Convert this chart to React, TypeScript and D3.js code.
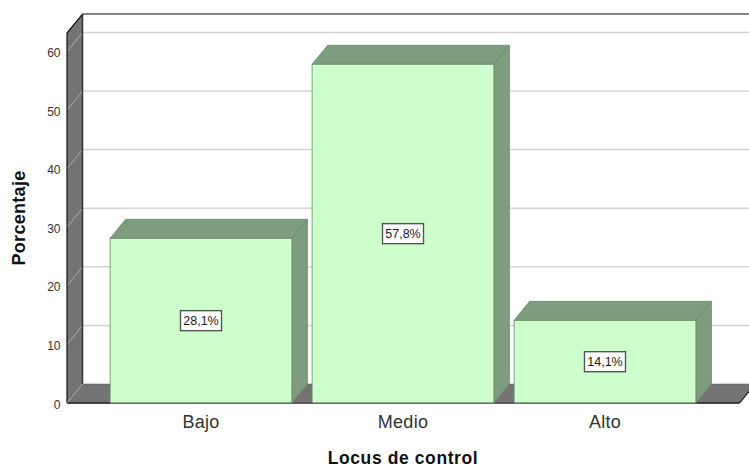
import React from "react";
import * as d3 from "d3";

const categories = ["Bajo", "Medio", "Alto"];
const percentages = [28.1, 57.8, 14.1];
const valueLabels = ["28,1%", "57,8%", "14,1%"];
const yTicks = [0, 10, 20, 30, 40, 50, 60];
const xTitle = "Locus de control";
const yTitle = "Porcentaje";

const W = 749, H = 468;
const dx = 15.5, dy = -19;
const x0 = 67, x1 = 739.5, yBase = 403, yTop = 33;

const y = d3.scaleLinear().domain([0, 63.14]).range([yBase, yTop]);
const x = d3.scaleBand<string>().domain(categories).range([100, 706]).paddingInner(0.1).paddingOuter(0.05);
const poly = d3.line<[number, number]>();

const WALL = "#747474", GRID = "#d4d4d4", SIDE = "#7e9c7e", FRONT = "#ccffcc", EDGE = "#6b866b", INK = "#1a1a1a";
const FONT = "'Liberation Sans', Arial, sans-serif";

export default function App() {
  return (
    <svg width={W} height={H} style={{ position: "absolute", left: 0, top: 0, background: "#fff" }} fontFamily={FONT}>
      {/* back wall */}
      <rect x={x0 + dx} y={yTop + dy} width={W} height={yBase - yTop} fill="#fff" />
      {/* left wall */}
      <path d={poly([[x0, yBase], [x0, yTop], [x0 + dx, yTop + dy], [x0 + dx, yBase + dy]])! + "Z"} fill={WALL} />
      {/* floor */}
      <path d={poly([[x0, yBase], [x0 + dx, yBase + dy], [x1 + dx, yBase + dy], [x1, yBase]])! + "Z"} fill={WALL} stroke="#555" strokeWidth={0.5} />
      {/* gridlines */}
      {yTicks.map((t) => (
        <g key={t}>
          <line x1={x0} y1={y(t)} x2={x0 + dx} y2={y(t) + dy} stroke="#a8a8a8" strokeWidth={1} />
          {t > 0 && <line x1={x0 + dx} y1={y(t) + dy} x2={W} y2={y(t) + dy} stroke={GRID} strokeWidth={1.5} />}
        </g>
      ))}
      {/* wall edges */}
      <path d={poly([[x0, yBase], [x0, yTop], [x0 + dx, yTop + dy], [W, yTop + dy]])!} fill="none" stroke="#111" strokeWidth={1.2} />
      <line x1={x0 + dx} y1={yTop + dy} x2={x0 + dx} y2={yBase + dy} stroke="#333" strokeWidth={1.5} />
      <line x1={x0} y1={yBase} x2={x1} y2={yBase} stroke="#222" strokeWidth={1.3} />
      <line x1={x1} y1={yBase} x2={x1 + dx} y2={yBase + dy} stroke="#222" strokeWidth={1.2} />
      <line x1={x0} y1={yBase} x2={x0 + dx} y2={yBase + dy} stroke="#999" strokeWidth={0.8} />

      {/* bars */}
      {categories.map((c, i) => {
        const l = x(c)!, r = l + x.bandwidth(), t = y(percentages[i]);
        const mid = (t + yBase) / 2, cx = (l + r) / 2;
        return (
          <g key={c}>
            <path d={poly([[l, t], [l + dx, t + dy], [r + dx, t + dy], [r, t]])! + "Z"} fill={SIDE} stroke={EDGE} strokeWidth={0.8} />
            <path d={poly([[r, t], [r + dx, t + dy], [r + dx, yBase + dy], [r, yBase]])! + "Z"} fill={SIDE} stroke={EDGE} strokeWidth={0.8} />
            <rect x={l} y={t} width={r - l} height={yBase - t} fill={FRONT} stroke={EDGE} strokeWidth={0.8} />
            <rect x={cx - 20.5} y={mid - 10} width={41} height={20} fill="#fff" stroke="#555" strokeWidth={1.4} />
            <text x={cx} y={mid + 4.5} textAnchor="middle" fontSize={12.5} fill={INK}>{valueLabels[i]}</text>
          </g>
        );
      })}
      <line x1={x(categories[0])!} y1={yBase} x2={x(categories[2])! + x.bandwidth()} y2={yBase} stroke="#777" strokeWidth={1} />

      {/* y ticks */}
      {yTicks.map((t) => (
        <text key={t} x={60.5} y={y(t) + 5.5} textAnchor="end" fontSize={12} fill="#333">{t}</text>
      ))}
      {/* x labels */}
      {categories.map((c) => (
        <text key={c} x={x(c)! + x.bandwidth() / 2} y={428} textAnchor="middle" fontSize={18} letterSpacing={0.3} fill="#333">{c}</text>
      ))}
      <text x={403} y={464} textAnchor="middle" fontSize={17.5} letterSpacing={0.6} fontWeight="bold" fill="#111">{xTitle}</text>
      <text transform="translate(25,218) rotate(-90)" textAnchor="middle" fontSize={18} letterSpacing={0.3} fontWeight="bold" fill="#111">{yTitle}</text>
    </svg>
  );
}
